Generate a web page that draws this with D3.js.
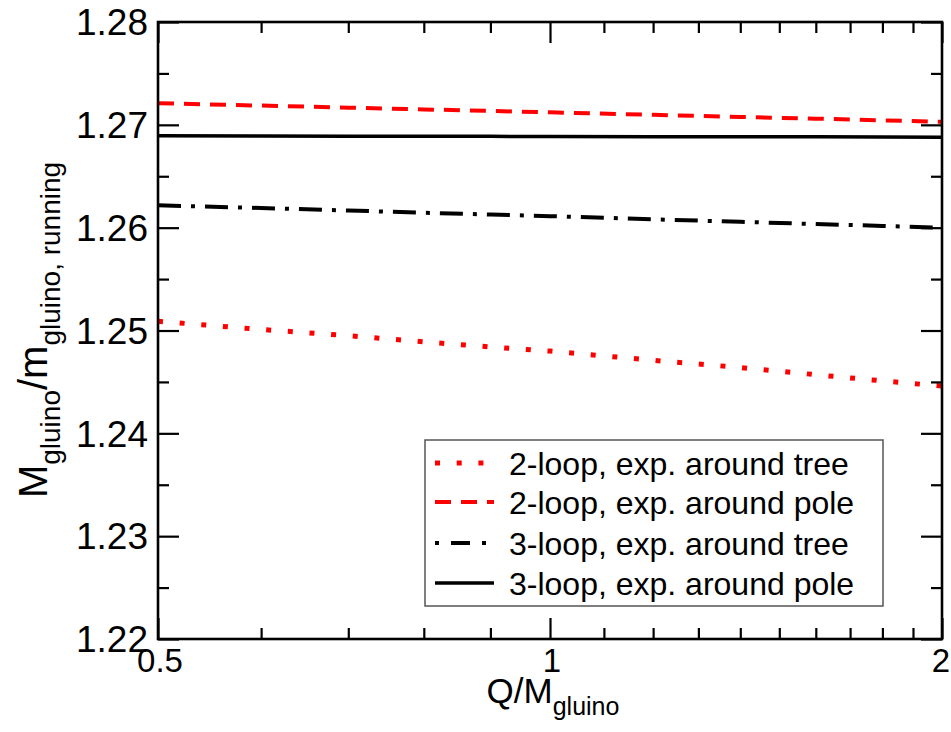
<!DOCTYPE html>
<html>
<head>
<meta charset="utf-8">
<script src="https://cdn.jsdelivr.net/npm/d3@7"></script>
<style>
  html, body { margin: 0; padding: 0; background: #fff; }
  svg { display: block; font-family: "Liberation Sans", Arial, Helvetica, sans-serif; }
</style>
</head>
<body>
<svg id="chart" width="951" height="732"></svg>
<script>
// ---- Data ----
const xValues = [0.5, 0.6, 0.7, 0.8, 0.9, 1.0, 1.2, 1.4, 1.6, 1.8, 2.0];
const twoLoopTree = [1.2509, 1.2501, 1.2495, 1.2489, 1.2484, 1.2480, 1.2471, 1.2464, 1.2457, 1.2451, 1.2446];
const twoLoopPole = [1.27211, 1.27187, 1.27167, 1.27150, 1.27135, 1.27122, 1.27097, 1.27077, 1.27060, 1.27044, 1.27030];
const threeLoopTree = [1.26217, 1.26191, 1.26167, 1.26145, 1.26127, 1.26112, 1.26081, 1.26057, 1.26035, 1.26017, 1.26000];
const threeLoopPole = [1.26893, 1.26891, 1.26890, 1.26889, 1.26888, 1.26887, 1.26885, 1.26884, 1.26883, 1.26881, 1.26880];
const seriesNames = ["2-loop, exp. around tree", "2-loop, exp. around pole", "3-loop, exp. around tree", "3-loop, exp. around pole"];
const xMajorTicks = [0.5, 1, 2];
const xMinorTicks = [0.6, 0.7, 0.8, 0.9, 1.1, 1.2, 1.3, 1.4, 1.5, 1.6, 1.7, 1.8, 1.9];
const yMajorTicks = [1.22, 1.23, 1.24, 1.25, 1.26, 1.27, 1.28];
const yMinorTicks = [1.225, 1.235, 1.245, 1.255, 1.265, 1.275];
const yTickLabels = ["1.22", "1.23", "1.24", "1.25", "1.26", "1.27", "1.28"];
const xTickLabels = ["0.5", "1", "2"];

// ---- Layout ----
const L = 158, R = 942, T = 22, B = 639;
const svg = d3.select("#chart");
const x = d3.scaleLog().domain([0.5, 2]).range([L, R]);
const y = d3.scaleLinear().domain([1.22, 1.28]).range([B, T]);

const styles = [
  { color: "#ff0000", width: 5, dash: "5,16.7" },
  { color: "#ff0000", width: 4, dash: "16,10" },
  { color: "#000000", width: 4, dash: "23,10,4,10" },
  { color: "#000000", width: 3.5, dash: null }
];
const allSeries = [twoLoopTree, twoLoopPole, threeLoopTree, threeLoopPole];

// clip
svg.append("clipPath").attr("id", "clip").append("rect")
  .attr("x", L).attr("y", T).attr("width", R - L).attr("height", B - T);

const line = d3.line().x((d, i) => x(xValues[i])).y(d => y(d));
const gLines = svg.append("g").attr("clip-path", "url(#clip)");
allSeries.forEach((s, k) => {
  gLines.append("path").datum(s)
    .attr("d", line)
    .attr("fill", "none")
    .attr("stroke", styles[k].color)
    .attr("stroke-width", styles[k].width)
    .attr("stroke-dasharray", styles[k].dash)
    .attr("stroke-linecap", "butt");
});

// ---- Axes (ticks inward on all sides) ----
const majLen = 21, minLen = 11;
const axBottom = d3.axisTop(x).tickValues(xMajorTicks).tickSize(majLen).tickFormat("");
const axBottomMin = d3.axisTop(x).tickValues(xMinorTicks).tickSize(minLen).tickFormat("");
const axTop = d3.axisBottom(x).tickValues(xMajorTicks).tickSize(majLen).tickFormat("");
const axTopMin = d3.axisBottom(x).tickValues(xMinorTicks).tickSize(minLen).tickFormat("");
const axLeft = d3.axisRight(y).tickValues(yMajorTicks).tickSize(majLen).tickFormat("");
const axLeftMin = d3.axisRight(y).tickValues(yMinorTicks).tickSize(minLen).tickFormat("");
const axRight = d3.axisLeft(y).tickValues(yMajorTicks).tickSize(majLen).tickFormat("");
const axRightMin = d3.axisLeft(y).tickValues(yMinorTicks).tickSize(minLen).tickFormat("");

function addAxis(ax, tx, ty) {
  const g = svg.append("g").attr("transform", `translate(${tx},${ty})`).call(ax);
  g.select(".domain").remove();
  g.selectAll(".tick line").attr("stroke", "#000").attr("stroke-width", 2.2);
  return g;
}
addAxis(axBottom, 0, B); addAxis(axBottomMin, 0, B);
addAxis(axTop, 0, T); addAxis(axTopMin, 0, T);
addAxis(axLeft, L, 0); addAxis(axLeftMin, L, 0);
addAxis(axRight, R, 0); addAxis(axRightMin, R, 0);

// frame
svg.append("rect").attr("x", L).attr("y", T).attr("width", R - L).attr("height", B - T)
  .attr("fill", "none").attr("stroke", "#000").attr("stroke-width", 2.6);

// tick labels
svg.append("g").selectAll("text").data(yMajorTicks).join("text")
  .attr("x", 148).attr("y", d => y(d)).attr("dy", "0.36em")
  .attr("text-anchor", "end").attr("font-size", 37).attr("fill", "#000")
  .text((d, i) => yTickLabels[i]);
svg.append("g").selectAll("text").data(xMajorTicks).join("text")
  .attr("x", (d, i) => x(d) + (i === 0 ? 2 : (i === 2 ? -1 : 2))).attr("y", 672)
  .attr("text-anchor", "middle").attr("font-size", 33).attr("fill", "#000")
  .text((d, i) => xTickLabels[i]);

// axis titles
const xt = svg.append("text").attr("x", 553).attr("y", 703).attr("text-anchor", "middle")
  .attr("font-size", 35).attr("fill", "#000");
xt.append("tspan").text("Q/M");
xt.append("tspan").attr("font-size", 25).attr("dy", 12).text("gluino");

const yt = svg.append("text").attr("transform", "translate(47,330) rotate(-90)")
  .attr("text-anchor", "middle").attr("font-size", 40).attr("fill", "#000");
yt.append("tspan").text("M");
yt.append("tspan").attr("font-size", 28).attr("dy", 13).text("gluino");
yt.append("tspan").attr("dy", -13).text("/m");
yt.append("tspan").attr("font-size", 28).attr("dy", 13).text("gluino, running");

// ---- Legend ----
const lg = svg.append("g");
lg.append("rect").attr("x", 425).attr("y", 440).attr("width", 458).attr("height", 166)
  .attr("fill", "#fff").attr("stroke", "#555").attr("stroke-width", 1.5);
const rowY = [463, 502, 543, 583];
seriesNames.forEach((name, k) => {
  lg.append("line").attr("x1", 435).attr("x2", 494).attr("y1", rowY[k]).attr("y2", rowY[k])
    .attr("stroke", styles[k].color).attr("stroke-width", styles[k].width)
    .attr("stroke-dasharray", k === 2 ? "4,12,19,12" : styles[k].dash);
  lg.append("text").attr("x", 509).attr("y", rowY[k]).attr("dy", "0.36em")
    .attr("font-size", 32).attr("fill", "#000").text(name);
});
</script>
</body>
</html>
